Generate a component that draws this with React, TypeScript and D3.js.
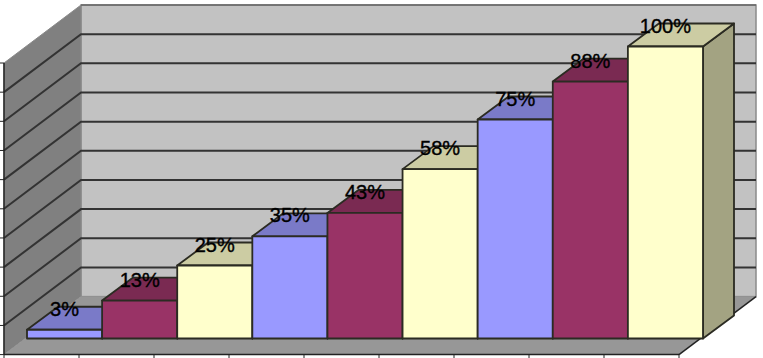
import React from 'react';
import * as d3 from 'd3';

const categories = ['1', '2', '3', '4', '5', '6', '7', '8', '9'];
const values = [3, 13, 25, 35, 43, 58, 75, 88, 100];
const labels = ['3%', '13%', '25%', '35%', '43%', '58%', '75%', '88%', '100%'];
const yTicks = [0, 10, 20, 30, 40, 50, 60, 70, 80, 90, 100];
const fronts = ['#9999ff', '#993366', '#ffffcc'];
const tops = ['#7a7ac8', '#7a2a52', '#cccca3'];
const sides = ['#6c6cb4', '#5e2340', '#a3a382'];

const width = 763;
const height = 358;
const ink = '#2b2b22';

// floor/wall depth, then the smaller depth of the bars themselves
const wallDx = 77;
const wallDy = 58;
const barDx = 31;
const barDy = 23;

const axisX = d3.scaleBand<string>().domain(categories).range([4, 679]);
const barX = d3.scaleBand<string>().domain(categories).range([27, 703]);
const axisY = d3.scaleLinear().domain([0, 100]).range([354.6, 63]);
const barY = d3.scaleLinear().domain([0, 100]).range([338.5, 46.5]);

const poly = (pts: [number, number][]) => d3.line()(pts) + 'Z';

export default function App() {
  const x0 = axisX.range()[0];
  const x1 = axisX.range()[1];
  const y0 = axisY(0);
  const yTop = axisY(100);

  return (
    <svg
      width={width}
      height={height}
      style={{ position: 'absolute', left: 0, top: 0, background: '#fff' }}
    >
      {/* back wall */}
      <rect
        x={x0 + wallDx}
        y={yTop - wallDy}
        width={x1 - x0}
        height={y0 - yTop}
        fill="#c2c2c2"
        stroke="#8a8a8a"
        strokeWidth={1.5}
      />
      {/* left wall */}
      <path
        d={poly([
          [x0, yTop],
          [x0 + wallDx, yTop - wallDy],
          [x0 + wallDx, y0 - wallDy],
          [x0, y0],
        ])}
        fill="#808080"
        stroke="#8a8a8a"
      />
      {/* floor */}
      <path
        d={poly([
          [x0, y0],
          [x1, y0],
          [x1 + wallDx, y0 - wallDy],
          [x0 + wallDx, y0 - wallDy],
        ])}
        fill="#979797"
      />
      {yTicks.slice(1).map(t => (
        <path
          key={t}
          d={d3.line()([
            [x0, axisY(t)],
            [x0 + wallDx, axisY(t) - wallDy],
            [x1 + wallDx, axisY(t) - wallDy],
          ]) as string}
          fill="none"
          stroke={t === 100 ? 'none' : '#333'}
          strokeWidth={2}
        />
      ))}
      <line x1={x0 + wallDx} x2={x1 + wallDx} y1={yTop - wallDy} y2={yTop - wallDy} stroke="#666" strokeWidth={1.5} />
      {/* axes */}
      <line x1={x0} x2={x0} y1={yTop} y2={y0} stroke="#222" strokeWidth={1.5} />
      <line x1={x0} x2={x1} y1={y0} y2={y0} stroke="#222" strokeWidth={1.5} />
      <line x1={x1} x2={x1 + wallDx} y1={y0} y2={y0 - wallDy} stroke="#222" strokeWidth={1.5} />
      {yTicks.map(t => (
        <line key={t} x1={0} x2={x0} y1={axisY(t)} y2={axisY(t)} stroke="#222" />
      ))}
      {[...categories.map(c => axisX(c) as number), x1].map((tx, i) => (
        <line key={i} x1={tx} x2={tx} y1={y0} y2={height} stroke="#222" />
      ))}
      {/* bars */}
      {categories.map((c, i) => {
        const x = barX(c) as number;
        const w = barX.bandwidth();
        const yt = barY(values[i]);
        const yb = barY(0);
        const k = i % 3;
        return (
          <g key={c} stroke={ink} strokeWidth={1.8} strokeLinejoin="round">
            <path
              d={poly([
                [x + w, yt],
                [x + w + barDx, yt - barDy],
                [x + w + barDx, yb - barDy],
                [x + w, yb],
              ])}
              fill={sides[k]}
            />
            <path
              d={poly([
                [x, yt],
                [x + barDx, yt - barDy],
                [x + w + barDx, yt - barDy],
                [x + w, yt],
              ])}
              fill={tops[k]}
            />
            <rect x={x} y={yt} width={w} height={yb - yt} fill={fronts[k]} />
          </g>
        );
      })}
      {/* labels go over every bar */}
      {categories.map((c, i) => (
        <text
          key={c}
          x={(barX(c) as number) + barX.bandwidth() / 2}
          y={barY(values[i]) - 14}
          textAnchor="middle"
          fontFamily="'Liberation Sans', Arial, sans-serif"
          fontSize={20}
          fill="#000"
          stroke="#000"
          strokeWidth={0.35}
        >
          {labels[i]}
        </text>
      ))}
    </svg>
  );
}
